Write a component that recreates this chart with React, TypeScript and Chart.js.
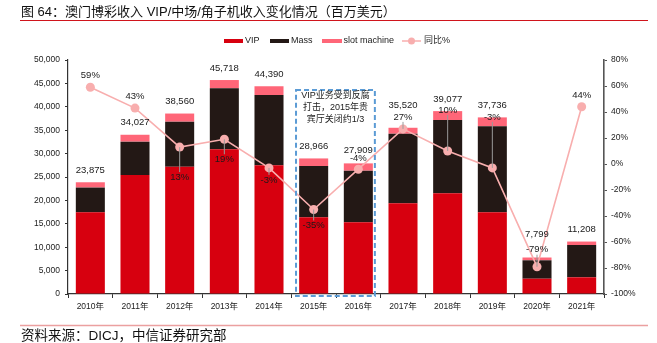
import React, { useEffect, useRef } from "react";
import { Chart, registerables } from "chart.js";

Chart.register(...registerables);

const categories = ["2010年", "2011年", "2012年", "2013年", "2014年", "2015年", "2016年", "2017年", "2018年", "2019年", "2020年", "2021年"];
const vip = [17460, 25430, 27200, 30920, 27500, 16390, 15320, 19380, 21520, 17460, 3270, 3570];
const mass = [5280, 7120, 9620, 13030, 15020, 10960, 11030, 14870, 15660, 18370, 3930, 6900];
const slot = [1135, 1477, 1740, 1768, 1870, 1616, 1559, 1270, 1897, 1906, 599, 738];
const totals = [23875, 34027, 38560, 45718, 44390, 28966, 27909, 35520, 39077, 37736, 7799, 11208];
const yoy = [59, 43, 13, 19, -3, -35, -4, 27, 10, -3, -79, 44];

const TITLE = "图 64：澳门博彩收入 VIP/中场/角子机收入变化情况（百万美元）";
const SOURCE = "资料来源：DICJ，中信证券研究部";
const NOTE = ["VIP业务受到反腐", "打击，2015年贵", "宾厅关闭约1/3"];

// label styling (pixel offsets relative to marks)
const pctOffsets = [-12, -12, 30, 20, 12, 16, -11, -12, -41, -51, -17, -11];
const pctLeader = [0, 0, 1, 1, 1, 1, 0, 1, 1, 1, 1, 0];
const totalOffsets = [-12, -12, -12, -12, -12, -12, -13, -22, -12, -12, -23, -12];

const FONT = '"Liberation Sans", Arial, "Noto Sans CJK SC", sans-serif';
const C_VIP = "#d7000f";
const C_MASS = "#231815";
const C_SLOT = "#ff6678";
const C_LINE = "#f8aeae";

const overlay = {
  id: "overlay",
  beforeDraw(chart: any) {
    const ctx = chart.ctx;
    ctx.save();
    ctx.fillStyle = "#fff";
    ctx.fillRect(0, 0, chart.width, chart.height);
    ctx.fillStyle = "#111";
    ctx.font = `13px ${FONT}`;
    ctx.textBaseline = "middle";
    ctx.textAlign = "left";
    ctx.fillText(TITLE, 21, 12);
    ctx.strokeStyle = "#d0141c";
    ctx.lineWidth = 1.2;
    ctx.beginPath();
    ctx.moveTo(20, 20.5);
    ctx.lineTo(648, 20.5);
    ctx.stroke();
    ctx.strokeStyle = "#eba0a0";
    ctx.lineWidth = 1.6;
    ctx.beginPath();
    ctx.moveTo(20, 325.5);
    ctx.lineTo(648, 325.5);
    ctx.stroke();
    ctx.fillStyle = "#111";
    ctx.font = `13.5px ${FONT}`;
    ctx.fillText(SOURCE, 21, 336.5);

    // legend
    const ly = 41;
    ctx.font = `9px ${FONT}`;
    ctx.fillStyle = C_VIP;
    ctx.fillRect(224, ly - 2, 19, 4);
    ctx.fillStyle = C_MASS;
    ctx.fillRect(270, ly - 2, 19, 4);
    ctx.fillStyle = C_SLOT;
    ctx.fillRect(322, ly - 2, 20, 4);
    ctx.strokeStyle = C_LINE;
    ctx.lineWidth = 1.5;
    ctx.beginPath();
    ctx.moveTo(402, ly);
    ctx.lineTo(421, ly);
    ctx.stroke();
    ctx.fillStyle = C_LINE;
    ctx.beginPath();
    ctx.arc(411.5, ly, 3.5, 0, Math.PI * 2);
    ctx.fill();
    ctx.fillStyle = "#222";
    ctx.fillText("VIP", 245, ly);
    ctx.fillText("Mass", 291, ly);
    ctx.fillText("slot machine", 343.5, ly);
    ctx.fillText("同比%", 424, ly);
    ctx.restore();
  },
  afterDatasetsDraw(chart: any) {
    const ctx = chart.ctx;
    const x = chart.scales.x;
    const y = chart.scales.y;
    const lineMeta = chart.getDatasetMeta(3);
    ctx.save();
    // note box
    const cw = x.getPixelForValue(1) - x.getPixelForValue(0);
    const bx0 = x.getPixelForValue(5) - cw * 0.395;
    const bx1 = x.getPixelForValue(6) + cw * 0.37;
    const by0 = y.getPixelForValue(43600);
    const by1 = chart.chartArea.bottom + 2;
    ctx.strokeStyle = "#5b9bd5";
    ctx.lineWidth = 2;
    ctx.setLineDash([5, 3]);
    ctx.strokeRect(bx0, by0, bx1 - bx0, by1 - by0);
    ctx.setLineDash([]);
    ctx.fillStyle = "#222";
    ctx.font = `9px ${FONT}`;
    ctx.textAlign = "center";
    ctx.textBaseline = "middle";
    NOTE.forEach((t, i) => ctx.fillText(t, (bx0 + bx1) / 2, by0 + 6 + i * 12));

    // leader lines
    ctx.strokeStyle = "#9a9a9a";
    ctx.lineWidth = 1;
    yoy.forEach((v, i) => {
      if (!pctLeader[i]) return;
      const p = lineMeta.data[i];
      const off = pctOffsets[i];
      const endY = p.y + off - Math.sign(off) * 5;
      ctx.beginPath();
      ctx.moveTo(p.x, p.y);
      ctx.lineTo(p.x, endY);
      ctx.stroke();
    });
    ctx.restore();
  },
  afterDraw(chart: any) {
    const ctx = chart.ctx;
    const x = chart.scales.x;
    const y = chart.scales.y;
    const lineMeta = chart.getDatasetMeta(3);
    ctx.save();
    ctx.textAlign = "center";
    ctx.textBaseline = "middle";
    ctx.font = `9.5px ${FONT}`;
    ctx.fillStyle = "#1a1a1a";
    totals.forEach((t, i) => {
      ctx.fillText(t.toLocaleString("en-US"), x.getPixelForValue(i), y.getPixelForValue(t) + totalOffsets[i]);
    });
    yoy.forEach((v, i) => {
      const p = lineMeta.data[i];
      ctx.fillText(`${v}%`, p.x, p.y + pctOffsets[i]);
    });
    ctx.restore();
  },
};

export default function App() {
  const ref = useRef<HTMLCanvasElement>(null);
  useEffect(() => {
    document.body.style.margin = "0";
    const chart = new Chart(ref.current as HTMLCanvasElement, {
      type: "bar",
      data: {
        labels: categories,
        datasets: [
          { label: "VIP", data: vip, backgroundColor: C_VIP, stack: "s", order: 1, yAxisID: "y" },
          { label: "Mass", data: mass, backgroundColor: C_MASS, stack: "s", order: 1, yAxisID: "y" },
          { label: "slot machine", data: slot, backgroundColor: C_SLOT, stack: "s", order: 1, yAxisID: "y" },
          {
            type: "line",
            label: "同比%",
            data: yoy,
            yAxisID: "y1",
            borderColor: C_LINE,
            backgroundColor: C_LINE,
            borderWidth: 1.6,
            pointRadius: 4.5,
            pointBackgroundColor: C_LINE,
            pointBorderWidth: 0,
            order: 0,
          } as any,
        ],
      },
      options: {
        responsive: false,
        animation: false,
        devicePixelRatio: 1,
        layout: { padding: { top: 60, left: 0, right: 0, bottom: 0 } },
        datasets: { bar: { barPercentage: 0.65, categoryPercentage: 1 } },
        plugins: { legend: { display: false }, tooltip: { enabled: false }, title: { display: false } },
        scales: {
          x: {
            stacked: true,
            grid: { drawOnChartArea: false, drawTicks: true, tickLength: 4, color: "#333", offset: true },
            border: { display: true, color: "#333", width: 1.2 },
            ticks: { color: "#222", font: { size: 8.5, family: FONT }, padding: 4, maxRotation: 0 },
            afterFit: (s: any) => { s.height = 49; },
          },
          y: {
            stacked: true,
            position: "left",
            min: 0,
            max: 50000,
            grid: { drawOnChartArea: false, drawTicks: true, tickLength: 3, color: "#333" },
            border: { display: true, color: "#333", width: 1.2 },
            ticks: {
              stepSize: 5000,
              color: "#222",
              font: { size: 8.5, family: FONT },
              padding: 5,
              callback: (v: any) => Number(v).toLocaleString("en-US"),
            },
            afterFit: (s: any) => { s.width = 68; },
          },
          y1: {
            position: "right",
            min: -100,
            max: 80,
            grid: { drawOnChartArea: false, drawTicks: true, tickLength: 3, color: "#555" },
            border: { display: true, color: "#555", width: 1.6 },
            ticks: {
              stepSize: 20,
              color: "#222",
              font: { size: 8.5, family: FONT },
              padding: 4,
              callback: (v: any) => `${v}%`,
            },
            afterFit: (s: any) => { s.width = 53; },
          },
        },
      },
      plugins: [overlay],
    } as any);
    return () => chart.destroy();
  }, []);
  return (
    <div style={{ position: "absolute", left: 0, top: 0, width: 657, height: 343 }}>
      <canvas ref={ref} width={657} height={343} style={{ width: 657, height: 343 }} />
    </div>
  );
}
